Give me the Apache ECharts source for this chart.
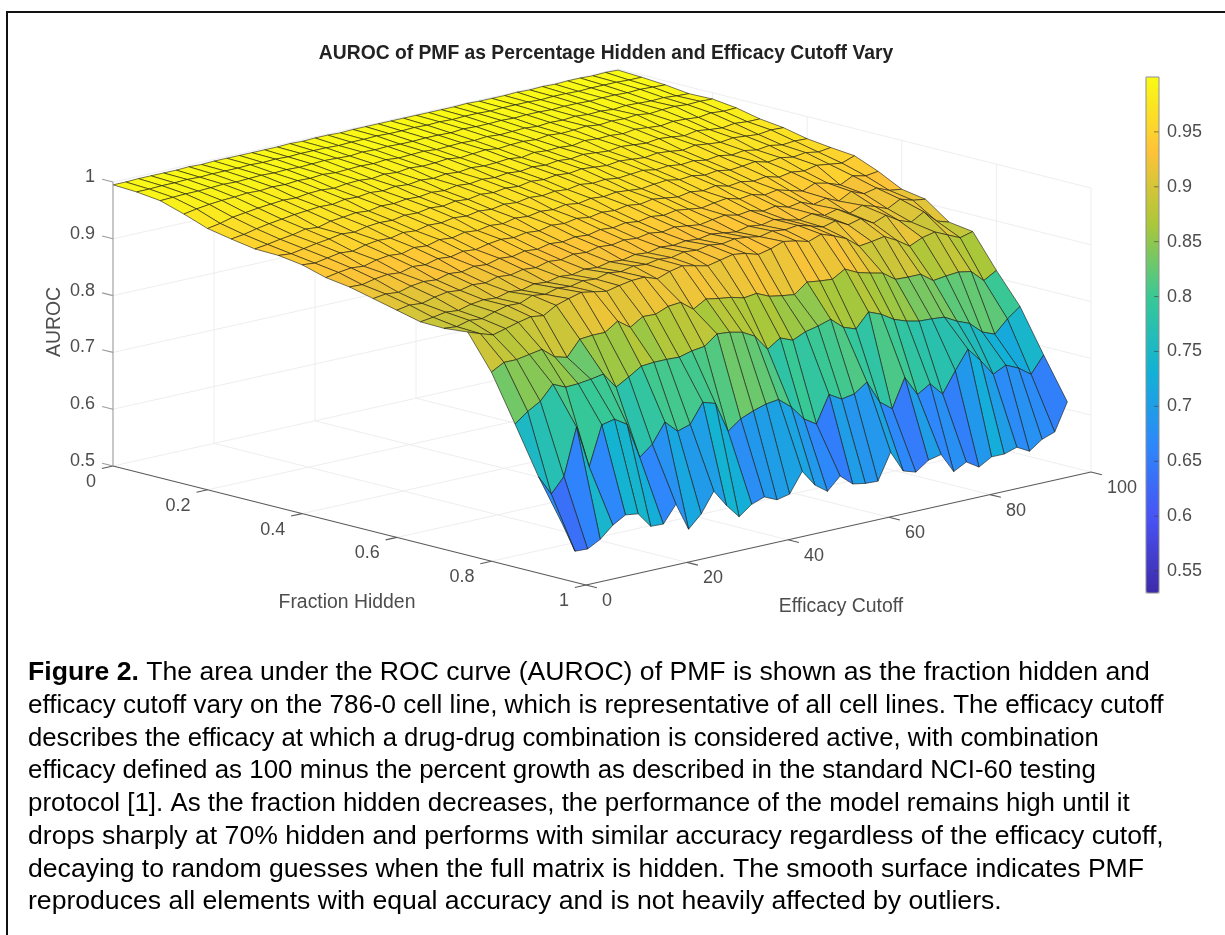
<!DOCTYPE html>
<html><head><meta charset="utf-8">
<style>html,body{margin:0;padding:0;background:#fff}#c{width:1225px;height:935px}</style>
<script src="https://cdn.jsdelivr.net/npm/echarts@6/dist/echarts.min.js"></script>
</head><body><div id="c"></div>
<script>
const titleText = 'AUROC of PMF as Percentage Hidden and Efficacy Cutoff Vary';
const fractionTicks = [0, 0.2, 0.4, 0.6, 0.8, 1];
const cutoffTicks = [0, 20, 40, 60, 80, 100];
const aurocTicks = [0.5, 0.6, 0.7, 0.8, 0.9, 1];
const colorbarTicks = [0.55, 0.6, 0.65, 0.7, 0.75, 0.8, 0.85, 0.9, 0.95];
const parula = ['#3E2AA8','#4852F4','#2E87FB','#12B1D6','#37C897','#ABC739','#FEC338','#F9FB14'];
const fractions = [0,.05,.1,.15,.2,.25,.3,.35,.4,.45,.5,.55,.6,.65,.7,.75,.8,.85,.9,.95];
const cutoffs = [0,2.5,5,7.5,10,12.5,15,17.5,20,22.5,25,27.5,30,32.5,35,37.5,40,42.5,45,47.5,50,52.5,55,57.5,60,62.5,65,67.5,70,72.5,75,77.5,80,82.5,85,87.5,90,92.5,95,97.5,100];
const r00=[.995,.995,.996,.996,.996,.996,.997,.996,.997,.997,.997,.997,.997,.997,.998,.997,.998,.998,.997,.998,.998,.998,.998,.998,.998,.998,.998,.998,.999,.998,.998,.998,.999,.998,.999,.998,.999,.999,.998,.999,.998];
const r01=[.993,.993,.994,.994,.995,.994,.995,.995,.995,.996,.995,.996,.995,.996,.996,.996,.995,.996,.996,.997,.996,.996,.997,.996,.997,.996,.997,.997,.996,.997,.997,.997,.996,.997,.997,.996,.997,.997,.997,.996,.996];
const r02=[.988,.989,.990,.990,.991,.992,.991,.992,.993,.992,.993,.992,.993,.994,.993,.992,.994,.993,.994,.993,.993,.994,.994,.993,.995,.994,.994,.995,.994,.995,.995,.994,.995,.995,.994,.995,.995,.994,.995,.994,.993];
const r03=[.975,.979,.982,.984,.985,.987,.986,.988,.987,.989,.988,.990,.988,.989,.990,.989,.991,.989,.990,.991,.989,.990,.991,.990,.992,.990,.991,.992,.990,.992,.991,.993,.991,.992,.990,.992,.991,.990,.991,.989,.988];
const r04=[.960,.964,.970,.973,.976,.978,.980,.979,.982,.983,.981,.984,.985,.983,.986,.984,.987,.985,.986,.988,.985,.987,.989,.986,.988,.989,.987,.990,.988,.989,.991,.988,.990,.989,.991,.988,.990,.991,.989,.990,.989];
const r05=[.952,.955,.960,.964,.967,.970,.972,.974,.973,.977,.976,.979,.977,.980,.978,.981,.979,.982,.980,.983,.981,.982,.984,.981,.985,.983,.984,.982,.986,.984,.985,.983,.986,.984,.982,.985,.984,.982,.985,.983,.984];
const r06=[.945,.948,.952,.955,.960,.958,.964,.966,.969,.967,.971,.970,.973,.972,.975,.973,.977,.975,.978,.976,.979,.977,.980,.978,.981,.979,.982,.980,.978,.981,.979,.977,.980,.978,.975,.979,.976,.974,.977,.975,.975];
const r07=[.944,.942,.946,.950,.953,.957,.955,.960,.962,.961,.965,.964,.968,.966,.970,.968,.972,.970,.973,.971,.975,.973,.976,.974,.977,.975,.973,.976,.974,.972,.975,.973,.970,.974,.971,.969,.972,.970,.968,.971,.970];
const r08=[.938,.936,.940,.944,.942,.948,.951,.950,.955,.953,.958,.957,.961,.959,.963,.961,.965,.963,.967,.965,.968,.966,.970,.967,.969,.966,.968,.970,.966,.968,.965,.967,.963,.966,.962,.965,.961,.964,.960,.962,.961];
const r09=[.926,.930,.933,.931,.937,.940,.938,.944,.942,.948,.946,.951,.949,.953,.951,.956,.954,.958,.956,.960,.957,.961,.959,.962,.960,.958,.961,.963,.959,.961,.957,.960,.956,.958,.961,.955,.958,.954,.957,.953,.956];
const r10=[.920,.919,.924,.927,.925,.931,.929,.935,.933,.938,.936,.941,.944,.942,.946,.944,.949,.947,.951,.948,.952,.950,.954,.951,.955,.952,.949,.953,.950,.954,.948,.951,.947,.950,.944,.948,.945,.950,.947,.944,.952];
const r11=[.910,.913,.911,.917,.920,.918,.924,.922,.927,.925,.931,.929,.934,.932,.937,.935,.939,.937,.942,.940,.944,.941,.945,.942,.946,.943,.940,.944,.947,.941,.944,.938,.942,.936,.930,.939,.934,.926,.937,.932,.935];
const r12=[.900,.904,.902,.908,.912,.910,.915,.913,.919,.917,.922,.920,.926,.924,.929,.927,.932,.930,.934,.932,.936,.933,.937,.934,.931,.935,.938,.933,.936,.930,.934,.927,.931,.922,.928,.918,.930,.921,.926,.917,.914];
const r13=[.890,.893,.897,.895,.901,.904,.902,.908,.906,.912,.910,.915,.913,.918,.916,.921,.919,.924,.922,.927,.925,.928,.926,.930,.927,.924,.929,.926,.931,.925,.920,.926,.918,.924,.912,.921,.914,.905,.917,.910,.907];
const r14=[.889,.887,.893,.891,.898,.904,.903,.912,.909,.915,.913,.918,.916,.922,.919,.924,.922,.926,.924,.929,.927,.931,.928,.932,.930,.926,.931,.928,.931,.925,.918,.924,.912,.918,.905,.914,.900,.892,.905,.884,.877];
const r15=[.893,.885,.878,.884,.890,.895,.892,.905,.912,.918,.914,.910,.915,.919,.920,.912,.920,.925,.920,.915,.920,.925,.922,.915,.920,.928,.924,.918,.926,.918,.908,.890,.893,.897,.885,.870,.880,.885,.875,.865,.871];
const r16=[.833,.845,.845,.849,.853,.835,.829,.856,.858,.858,.873,.857,.871,.870,.879,.881,.864,.877,.873,.870,.864,.867,.857,.853,.850,.867,.864,.862,.875,.864,.858,.853,.837,.836,.836,.820,.823,.825,.821,.800,.813];
const r17=[.752,.769,.782,.807,.797,.798,.801,.805,.777,.790,.804,.806,.806,.805,.811,.814,.831,.829,.824,.812,.784,.799,.790,.800,.805,.812,.793,.785,.810,.801,.787,.779,.774,.773,.771,.759,.750,.730,.721,.743,.760];
const r18=[.669,.634,.660,.742,.667,.736,.741,.727,.664,.682,.716,.695,.702,.736,.729,.675,.692,.701,.708,.711,.693,.667,.653,.700,.687,.691,.707,.667,.650,.700,.665,.679,.656,.692,.725,.700,.671,.682,.672,.656,.685];
const r19=[.597,.544,.543,.555,.575,.588,.585,.558,.557,.587,.538,.560,.595,.565,.540,.557,.565,.555,.560,.595,.566,.550,.572,.553,.549,.548,.594,.556,.549,.565,.570,.535,.547,.533,.546,.546,.553,.541,.557,.565,.613];
const auroc=[r00,r01,r02,r03,r04,r05,r06,r07,r08,r09,r10,r11,r12,r13,r14,r15,r16,r17,r18,r19];
const captionLines = [
 'The area under the ROC curve (AUROC) of PMF is shown as the fraction hidden and',
 'efficacy cutoff vary on the 786-0 cell line, which is representative of all cell lines. The efficacy cutoff',
 'describes the efficacy at which a drug-drug combination is considered active, with combination',
 'efficacy defined as 100 minus the percent growth as described in the standard NCI-60 testing',
 'protocol [1]. As the fraction hidden decreases, the performance of the model remains high until it',
 'drops sharply at 70% hidden and performs with similar accuracy regardless of the efficacy cutoff,',
 'decaying to random guesses when the full matrix is hidden. The smooth surface indicates PMF',
 'reproduces all elements with equal accuracy and is not heavily affected by outliers.'
];
const captionFit = [1, .979, .965, .974, .973, 1, 1, 1];

// orthographic view of the data box: each data axis contributes a fixed vector to the view plane
const view = {fx:473, fy:119, cx:505, cy:-113, zy:-568};
const proj = (f,c,z) => [view.fx*f + view.cx*c/100, view.fy*f + view.cy*c/100 + view.zy*(z-0.5)];

const faces = [];
for (let i=0;i<fractions.length-1;i++) for (let j=cutoffs.length-2;j>=0;j--) faces.push([i,j,auroc[i][j]]);

const lines = []; // [f0,c0,z0,f1,c1,z1,kind]
fractionTicks.forEach(f=>{ if(f>0&&f<1) lines.push([f,0,.5,f,100,.5,0]); if(f>0&&f<1) lines.push([f,100,.5,f,100,1,0]); });
cutoffTicks.forEach(c=>{ if(c>0&&c<100) { lines.push([0,c,.5,1,c,.5,0]); lines.push([0,c,.5,0,c,1,0]); } });
aurocTicks.forEach(z=>{ if(z>.5&&z<=1){ lines.push([0,0,z,0,100,z,0]); lines.push([0,100,z,1,100,z,0]); } });
lines.push([1,100,.5,1,100,1,0],[0,100,.5,0,100,1,0],[0,100,.5,1,100,.5,0],[0,100,.5,0,0,.5,0]);
const axisLines = [];
axisLines.push([0,0,.5,0,0,1,2],[0,0,.5,1,0,.5,1],[1,0,.5,1,100,.5,1]);
fractionTicks.forEach(f=>axisLines.push([f,0,.5,f,-2.2,.5,1]));
cutoffTicks.forEach(c=>axisLines.push([1,c,.5,1.023,c,.5,1]));
aurocTicks.forEach(z=>axisLines.push([0,0,z,-.023,0,z,2]));
const tickText = [];
const fmt = v=>String(v);
aurocTicks.forEach(z=>tickText.push([0,0,z,fmt(z),-18,-5,'right']));
fractionTicks.forEach(f=>tickText.push([f,0,.5,fmt(f),-17,16,'right']));
cutoffTicks.forEach(c=>tickText.push([1,c,.5,fmt(c),16,16,'left']));

const lineRender = (params,api)=>{
  const a=api.coord(proj(api.value(0),api.value(1),api.value(2)));
  const b=api.coord(proj(api.value(3),api.value(4),api.value(5)));
  const k=api.value(6);
  return {type:'line',shape:{x1:a[0],y1:a[1],x2:b[0],y2:b[1]},
    style:{stroke:['#eeeef1','#5a5a5a','#9a9a9a'][k],lineWidth:k===0?1:1.1}};
};
const option = {
  animation:false,
  backgroundColor:'#fff',
  title:{text:titleText,left:606,top:39,textAlign:'center',
    textStyle:{fontFamily:'Liberation Sans',fontSize:19.3,fontWeight:'bold',color:'#222'},
    padding:[5,10,5,0]},
  grid:[
    {left:113,top:69,width:980,height:516,show:false},
    {left:1146,top:77,width:13,height:516,show:false}
  ],
  xAxis:[
    {type:'value',min:0,max:980,show:false,gridIndex:0},
    {type:'value',min:0,max:1,show:false,gridIndex:1}
  ],
  yAxis:[
    {type:'value',min:-397,max:119,inverse:true,show:false,gridIndex:0},
    {type:'value',gridIndex:1,min:.53,max:1,position:'right',splitLine:{show:false},
     axisLine:{show:false},axisTick:{show:false},
     axisLabel:{show:true,margin:8,customValues:colorbarTicks,formatter:v=>String(v),
       fontFamily:'Liberation Sans',fontSize:18,color:'#4d4d4d'}}
  ],
  visualMap:{type:'continuous',seriesIndex:1,dimension:2,min:.53,max:1,calculable:false,hoverLink:false,
    left:1146,top:77,itemWidth:13,itemHeight:516,padding:0,text:null,inRange:{color:parula},borderWidth:0},
  series:[
    {type:'custom',coordinateSystem:'cartesian2d',xAxisIndex:0,yAxisIndex:0,silent:true,progressive:0,z:1,
     data:lines,renderItem:lineRender},
    {type:'custom',coordinateSystem:'cartesian2d',xAxisIndex:0,yAxisIndex:0,silent:true,progressive:0,z:2,
     data:faces,
     renderItem:(params,api)=>{
       const i=api.value(0), j=api.value(1);
       const corners=[[i,j],[i+1,j],[i+1,j+1],[i,j+1]];
       const pts=corners.map(p=>api.coord(proj(fractions[p[0]],cutoffs[p[1]],auroc[p[0]][p[1]])));
       return {type:'polygon',shape:{points:pts},
         style:{fill:api.visual('color'),stroke:'rgba(25,25,15,0.6)',lineWidth:1}};
     }},
    {type:'custom',coordinateSystem:'cartesian2d',xAxisIndex:0,yAxisIndex:0,silent:true,progressive:0,z:3,
     data:axisLines,renderItem:lineRender},
    {type:'custom',coordinateSystem:'cartesian2d',xAxisIndex:0,yAxisIndex:0,silent:true,progressive:0,z:4,
     data:tickText,
     renderItem:(params,api)=>{
       const d=tickText[params.dataIndex];
       const p=api.coord(proj(d[0],d[1],d[2]));
       return {type:'text',x:p[0]+d[4],y:p[1]+d[5],
         style:{text:d[3],fill:'#4d4d4d',font:'18px "Liberation Sans"',textAlign:d[6],textVerticalAlign:'middle'}};
     }},
    {type:'custom',coordinateSystem:'cartesian2d',xAxisIndex:1,yAxisIndex:1,silent:true,progressive:0,z:10,
     data:colorbarTicks.map(t=>[t]),
     renderItem:(params,api)=>{
       const a=api.coord([0.62,api.value(0)]), b=api.coord([1,api.value(0)]);
       return {type:'line',shape:{x1:a[0],y1:a[1],x2:b[0],y2:b[1]},style:{stroke:'rgba(60,60,60,0.6)',lineWidth:1}};
     }},
    {type:'custom',coordinateSystem:'cartesian2d',xAxisIndex:1,yAxisIndex:1,silent:true,progressive:0,z:10,
     data:[[0,1,1,.53]],
     renderItem:(params,api)=>{
       const a=api.coord([api.value(0),api.value(1)]), b=api.coord([api.value(2),api.value(3)]);
       return {type:'rect',shape:{x:a[0],y:a[1],width:b[0]-a[0],height:b[1]-a[1]},style:{fill:'none',stroke:'#8f8f8f',lineWidth:1}};
     }}
  ],
  graphic:[
    {type:'line',shape:{x1:6,y1:12,x2:1225,y2:12},style:{stroke:'#111',lineWidth:2}},
    {type:'line',shape:{x1:7,y1:11,x2:7,y2:935},style:{stroke:'#111',lineWidth:2}},
    {type:'text',x:347,y:603,style:{text:'Fraction Hidden',fill:'#4d4d4d',font:'19.4px "Liberation Sans"',textAlign:'center',textVerticalAlign:'middle'}},
    {type:'text',x:841,y:607,style:{text:'Efficacy Cutoff',fill:'#4d4d4d',font:'19.4px "Liberation Sans"',textAlign:'center',textVerticalAlign:'middle'}},
    {type:'text',x:55,y:322,rotation:Math.PI/2,style:{text:'AUROC',fill:'#4d4d4d',font:'19.4px "Liberation Sans"',textAlign:'center',textVerticalAlign:'middle'}},
    ...captionLines.map((t,k)=>({type:'text',x:28,y:673+k*32.7,scaleX:captionFit[k],style:{
      text:(k===0?'{b|Figure 2.} ':'')+t,
      rich:{b:{font:'bold 26.6px "Liberation Sans"',fill:'#000'}},
      fill:'#000',font:'26.6px "Liberation Sans"',textVerticalAlign:'middle'}}))
  ]
};
echarts.init(document.getElementById('c'),null,{renderer:'canvas'}).setOption(option);
</script></body></html>
